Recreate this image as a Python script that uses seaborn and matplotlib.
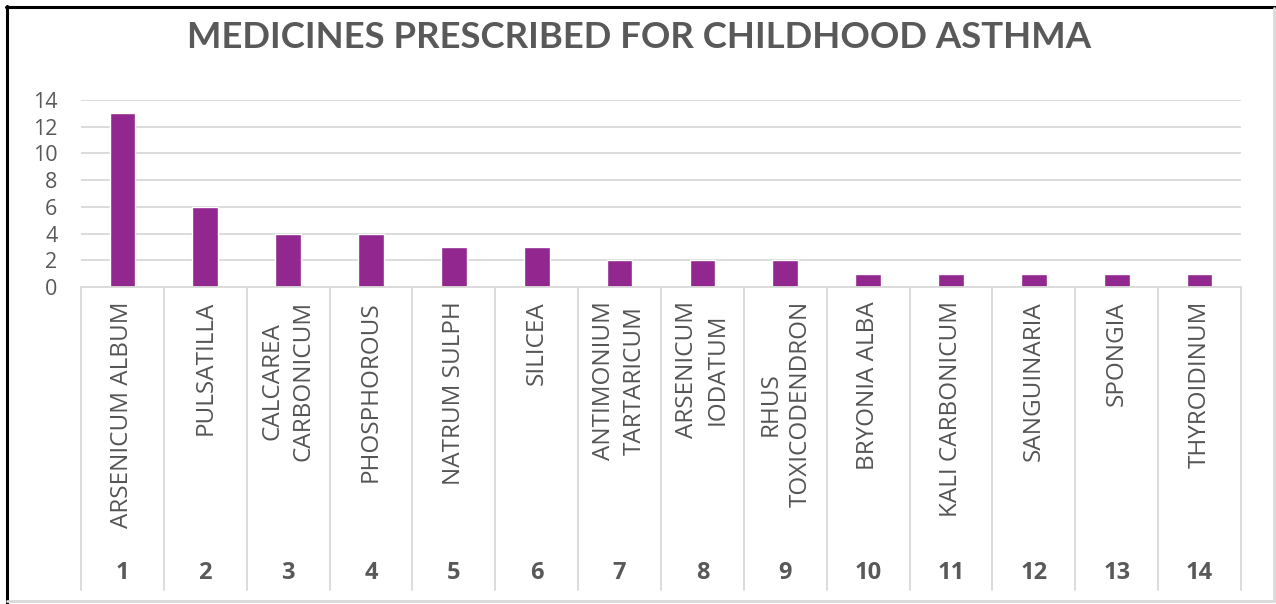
import matplotlib
matplotlib.use("Agg")
import matplotlib.pyplot as plt
import seaborn as sns
import pandas as pd
from matplotlib.lines import Line2D
import matplotlib.transforms as mtransforms

ranks = ["1", "2", "3", "4", "5", "6", "7", "8", "9", "10", "11", "12", "13", "14"]
medicines = ["ARSENICUM ALBUM", "PULSATILLA", "CALCAREA\nCARBONICUM", "PHOSPHOROUS",
             "NATRUM SULPH", "SILICEA", "ANTIMONIUM\nTARTARICUM", "ARSENICUM\nIODATUM",
             "RHUS\nTOXICODENDRON", "BRYONIA ALBA", "KALI CARBONICUM", "SANGUINARIA",
             "SPONGIA", "THYROIDINUM"]
counts = [13, 6, 4, 4, 3, 3, 2, 2, 2, 1, 1, 1, 1, 1]
title = "MEDICINES PRESCRIBED FOR CHILDHOOD ASTHMA"

sns.set_theme(style="white")
plt.rcParams['font.family'] = ['Open Sans', 'DejaVu Sans']

W, H = 1276, 604
fig = plt.figure(figsize=(W / 100, H / 100), dpi=100)
ax = fig.add_axes([81 / W, 1 - 287 / H, (1241 - 81) / W, (287 - 100) / H])

df = pd.DataFrame({"rank": ranks, "count": counts})
sns.barplot(data=df, x="rank", y="count", color="#92278F", width=0.31,
            saturation=1, ax=ax, order=ranks)

ax.set_ylim(0, 14)
ax.set_xlim(-0.5, len(ranks) - 0.5)
ax.set_yticks(range(0, 15, 2))
ax.yaxis.grid(True, color="#D9D9D9", linewidth=1.3)
ax.set_axisbelow(True)
for s in ["top", "right", "left"]:
    ax.spines[s].set_visible(False)
ax.spines["bottom"].set_color("#D9D9D9")
ax.spines["bottom"].set_linewidth(1.3)
ax.tick_params(axis="y", length=0, pad=17, labelsize=15.5, labelcolor="#595959")
ax.set_xticks([])
ax.set_xlabel("")
ax.set_ylabel("")

# category separators
trans = mtransforms.blended_transform_factory(ax.transData, ax.transAxes)
ybot = -(590 - 287) / (287 - 100)
for i in range(len(ranks) + 1):
    ax.add_line(Line2D([i - 0.5, i - 0.5], [0, ybot], transform=trans,
                       color="#D9D9D9", linewidth=1.3, clip_on=False))

# labels
ytop_name = -(301 - 287) / (287 - 100)
ynum = -(573 - 287) / (287 - 100)
for i, (name, r) in enumerate(zip(medicines, ranks)):
    ax.text(i, ytop_name, name, transform=trans, rotation=90, ha="center", va="top",
            multialignment="center", fontsize=17.5, color="#555555", linespacing=1.35,
            fontweight="medium")
    ax.text(i, ynum, r, transform=trans, ha="center", va="center",
            fontsize=17, fontweight="bold", color="#595959")

fig.text(639 / W, 1 - 38 / H, title, ha="center", va="center", fontsize=26.3,
         fontweight="bold", color="#595959", family=["Lato", "DejaVu Sans"])

# figure frame
fig.add_artist(Line2D([6 / W, 1275 / W], [1 - 6.5 / H] * 2, transform=fig.transFigure, color="black", linewidth=2.2))
fig.add_artist(Line2D([6.5 / W] * 2, [1 - 6 / H, 1 - 603 / H], transform=fig.transFigure, color="black", linewidth=2.2))
fig.add_artist(Line2D([1274 / W] * 2, [1 - 8 / H, 1 - 601 / H], transform=fig.transFigure, color="#D9D9D9", linewidth=2))
fig.add_artist(Line2D([7 / W, 1274 / W], [1 - 601 / H] * 2, transform=fig.transFigure, color="#D9D9D9", linewidth=2))

fig.savefig("out.png", dpi=100, facecolor="white")
